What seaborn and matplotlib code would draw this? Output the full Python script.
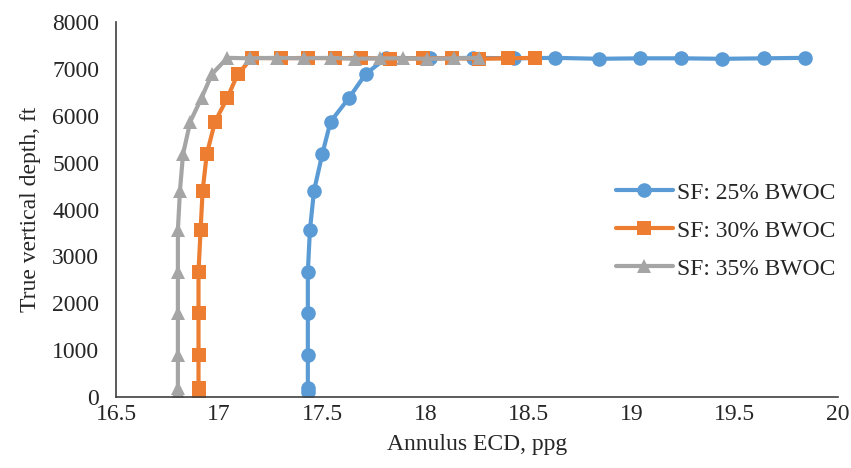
import matplotlib
matplotlib.use("Agg")
import matplotlib.pyplot as plt
import seaborn as sns
import pandas as pd

# %%
# Data (TVD in ft, ECD in ppg)
tvd = [120, 200, 900, 1790, 2675, 3560, 4400, 5180, 5870, 6380, 6885,
       7230, 7220, 7230, 7220, 7230, 7210, 7220, 7220, 7210, 7220, 7230]

ecd_25 = [17.43, 17.43, 17.43, 17.43, 17.43, 17.44, 17.46, 17.50, 17.54, 17.63, 17.71,
          17.81, 18.02, 18.23, 18.43, 18.63, 18.84, 19.04, 19.24, 19.44, 19.64, 19.84]
ecd_30 = [16.90, 16.90, 16.90, 16.90, 16.90, 16.91, 16.92, 16.94, 16.98, 17.04, 17.09,
          17.16, 17.30, 17.43, 17.56, 17.69, 17.83, 17.99, 18.13, 18.26, 18.40, 18.53]
ecd_35 = [16.80, 16.80, 16.80, 16.80, 16.80, 16.80, 16.81, 16.825, 16.86, 16.915, 16.965,
          17.04, 17.15, 17.28, 17.41, 17.54, 17.66, 17.78, 17.89, 18.01, 18.14, 18.26]

labels = ["SF: 25% BWOC", "SF: 30% BWOC", "SF: 35% BWOC"]
colors = ["#5B9BD5", "#ED7D31", "#A5A5A5"]

df = pd.concat([
    pd.DataFrame({"ECD": ecd, "TVD": tvd, "series": lab})
    for ecd, lab in zip([ecd_25, ecd_30, ecd_35], labels)
], ignore_index=True)

# %%
sns.set_style("white")
plt.rcParams["font.family"] = ["Liberation Serif", "DejaVu Serif"]
size = 17

fig = plt.figure(figsize=(8.51, 4.68), dpi=100)
ax = fig.add_axes([116 / 851, 1 - 397.3 / 468, (838 - 116) / 851, (397.3 - 21.7) / 468])

sns.lineplot(data=df, x="ECD", y="TVD", hue="series", style="series",
             hue_order=labels, style_order=labels, palette=colors,
             markers=["o", "s", "^"], dashes=False, sort=False, estimator=None,
             linewidth=3, markersize=10.5, markeredgewidth=0, ax=ax)

ax.set_xlim(16.5, 20)
ax.set_ylim(0, 8000)
ax.set_xticks([16.5, 17, 17.5, 18, 18.5, 19, 19.5, 20])
ax.set_xticklabels(["16.5", "17", "17.5", "18", "18.5", "19", "19.5", "20"])
ax.set_yticks(range(0, 8001, 1000))
ax.tick_params(length=0, labelsize=size)
ax.tick_params(axis="x", pad=5)
ax.tick_params(axis="y", pad=12)
ax.set_xlabel("Annulus ECD, ppg", fontsize=size, labelpad=6)
ax.set_ylabel("True vertical depth, ft", fontsize=size, labelpad=8)

for side in ["top", "right"]:
    ax.spines[side].set_visible(False)
for side in ["left", "bottom"]:
    ax.spines[side].set_color("#404040")
    ax.spines[side].set_linewidth(1.2)

ax.legend(frameon=False, fontsize=size, loc="upper left",
          bbox_to_anchor=(616 / 851, 1 - 182 / 468), bbox_transform=fig.transFigure,
          borderpad=0, borderaxespad=0, handlelength=2.4, handletextpad=0.2,
          labelspacing=0.7)

fig.savefig("out.png", dpi=100)
